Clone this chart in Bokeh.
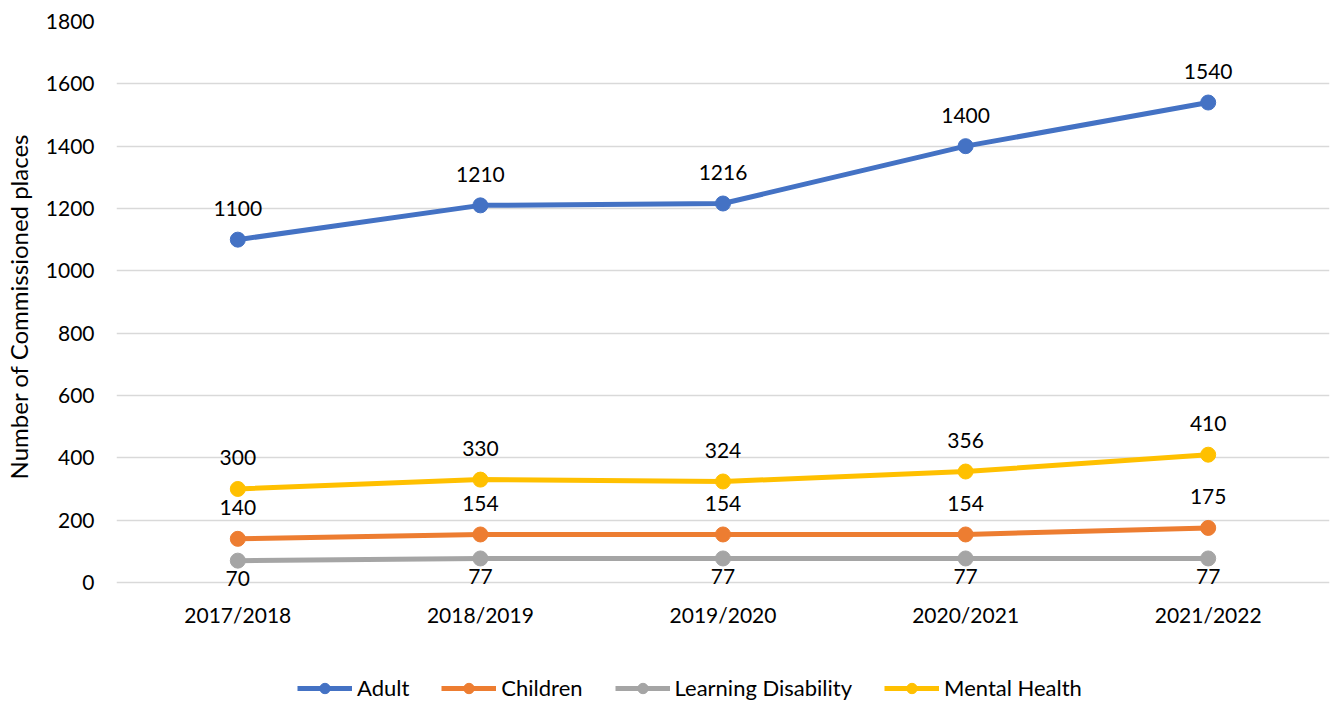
from bokeh.plotting import figure
from bokeh.layouts import column
from bokeh.models import ColumnDataSource, LabelSet, Legend, LegendItem, FixedTicker
from bokeh.core.properties import value
from bokeh.embed import file_html
from bokeh.resources import INLINE

years = ["2017/2018", "2018/2019", "2019/2020", "2020/2021", "2021/2022"]
adult = [1100, 1210, 1216, 1400, 1540]
children = [140, 154, 154, 154, 175]
learning = [70, 77, 77, 77, 77]
mental = [300, 330, 324, 356, 410]
series_names = ["Adult", "Children", "Learning Disability", "Mental Health"]
colors = ["#4472C4", "#ED7D31", "#A5A5A5", "#FFC000"]
label_offsets = [31, 31, -18, 31]

FONT = "Lato"
TXT = "#000000"

p = figure(x_range=years, y_range=(-29, 1800), width=1335, height=630,
           output_backend="svg", toolbar_location=None,
           min_border_left=115, min_border_right=6, min_border_top=21, min_border_bottom=39)
p.outline_line_color = None
p.background_fill_color = "white"
p.border_fill_color = "white"

p.yaxis.ticker = FixedTicker(ticks=list(range(0, 1801, 200)))
p.ygrid.grid_line_color = "#d9d9d9"
p.ygrid.grid_line_width = 1.5
p.xgrid.grid_line_color = None
p.yaxis.axis_line_color = None
p.yaxis.major_tick_line_color = None
p.yaxis.minor_tick_line_color = None
p.xaxis.axis_line_color = None
p.xaxis.major_tick_line_color = None
p.xaxis.minor_tick_line_color = None
for ax in (p.xaxis, p.yaxis):
    ax.major_tick_out = 0
    ax.major_tick_in = 0
    ax.minor_tick_out = 0
    ax.major_label_text_font = FONT
    ax.major_label_text_font_size = "21px"
    ax.major_label_text_color = TXT
p.yaxis.major_label_standoff = 22
p.xaxis.major_label_standoff = 10
p.yaxis.axis_label = "Number of Commissioned places"
p.yaxis.axis_label_text_font = FONT
p.yaxis.axis_label_text_font_size = "24px"
p.yaxis.axis_label_text_font_style = "normal"
p.yaxis.axis_label_text_color = TXT
p.yaxis.axis_label_standoff = 10

# legend strip: same series, drawn outside its visible range so only the legend shows
lf = figure(x_range=years, y_range=(0, 1), width=1335, height=72,
            output_backend="svg", toolbar_location=None,
            x_axis_location=None, y_axis_location=None,
            min_border_left=0, min_border_right=0, min_border_top=0, min_border_bottom=0)
lf.outline_line_color = None
lf.xgrid.grid_line_color = None
lf.ygrid.grid_line_color = None

items = []
for name, vals, col, off in zip(series_names, [adult, children, learning, mental], colors, label_offsets):
    src = ColumnDataSource(dict(x=years, y=vals, t=[str(v) for v in vals]))
    p.line("x", "y", source=src, line_color=col, line_width=5)
    p.scatter("x", "y", source=src, size=15, fill_color=col, line_color=col)
    lab = LabelSet(x="x", y="y", text="t", source=src, x_offset=0, y_offset=off,
                   text_align="center", text_baseline="middle",
                   text_font=value(FONT), text_font_size="21px", text_color=TXT)
    p.add_layout(lab)
    l2 = lf.line("x", "y", source=src, line_color=col, line_width=5)
    c2 = lf.scatter("x", "y", source=src, size=15, fill_color=col, line_color=col)
    items.append(LegendItem(label=name, renderers=[l2, c2]))

legend = Legend(items=items, orientation="horizontal", location=(181, 1),
                label_text_font=FONT, label_text_font_size="22px", label_text_color=TXT,
                glyph_width=55, glyph_height=26, label_height=26, spacing=32, label_standoff=5,
                border_line_color=None, background_fill_alpha=0, margin=0, padding=0)
lf.add_layout(legend, "center")

open("out.html", "w").write(file_html(column(p, lf, spacing=0), INLINE))
